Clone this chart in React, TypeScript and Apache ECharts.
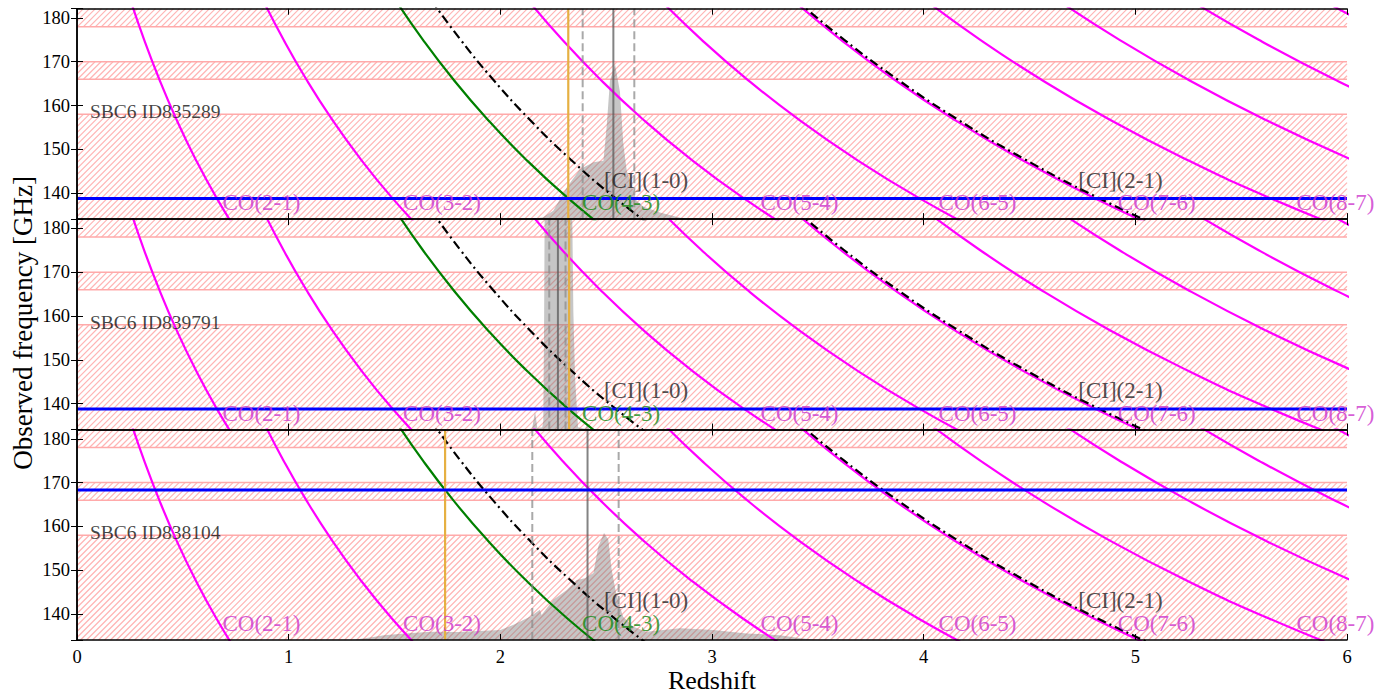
import React, { useEffect, useRef } from 'react';
import * as echarts from 'echarts';

const FONT = '"Liberation Serif", "Times New Roman", serif';

const zMin = 0;
const zMax = 6;
const fMin = 134.1;
const fMax = 182.1;

// Line tracks: [redshift, observed frequency GHz]
const co21 = [[0.2529, 184], [0.3174, 175], [0.3888, 166], [0.4684, 157], [0.5577, 148], [0.6586, 139], [0.7734, 130]];
const co32 = [[0.8793, 184], [0.976, 175], [1.0831, 166], [1.2025, 157], [1.3365, 148], [1.4877, 139], [1.66, 130]];
const co43 = [[1.5057, 184], [1.6345, 175], [1.7774, 166], [1.9366, 157], [2.1151, 148], [2.3168, 139], [2.5465, 130]];
const ci10 = [[1.6748, 184], [1.8123, 175], [1.9648, 166], [2.1348, 157], [2.3254, 148], [2.5407, 139], [2.7858, 130]];
const co54 = [[2.1319, 184], [2.293, 175], [2.4715, 166], [2.6705, 157], [2.8937, 148], [3.1458, 139], [3.4328, 130]];
const co65 = [[2.758, 184], [2.9513, 175], [3.1655, 166], [3.4043, 157], [3.6721, 148], [3.9746, 139], [4.319, 130]];
const co76 = [[3.384, 184], [3.6094, 175], [3.8593, 166], [4.1379, 157], [4.4504, 148], [4.8033, 139], [5.205, 130]];
const ci21 = [[3.3986, 184], [3.6248, 175], [3.8756, 166], [4.155, 157], [4.4685, 148], [4.8226, 139], [5.2257, 130]];
const co87 = [[4.0098, 184], [4.2674, 175], [4.553, 166], [4.8713, 157], [5.2284, 148], [5.6317, 139], [6.0908, 130]];
const co98 = [[4.6354, 184], [4.9252, 175], [5.2465, 166], [5.6045, 157], [6.0062, 148], [6.4598, 139]];
const co109 = [[5.2608, 184], [5.5828, 175], [5.9397, 166], [6.3375, 157], [6.7837, 148]];
const co1110 = [[5.886, 184], [6.2401, 175], [6.6326, 166]];

const pinkTracks = [co21, co32, co54, co65, co76, co87, co98, co109, co1110];
const greenTrack = co43;
const ciTracks = [ci10, ci21];

const coLabelNames = ['CO(2-1)', 'CO(3-2)', 'CO(4-3)', 'CO(5-4)', 'CO(6-5)', 'CO(7-6)', 'CO(8-7)'];
const coLabelZ = [0.685, 1.538, 2.384, 3.227, 4.068, 4.915, 5.759];
const coLabelFreq = 137.8;
const ciLabelNames = ['[CI](1-0)', '[CI](2-1)'];
const ciLabelZ = [2.487, 4.728];
const ciLabelFreq = 143.0;

const panelNames = ['SBC6 ID835289', 'SBC6 ID839791', 'SBC6 ID838104'];
const panelNameZ = 0.059;
const panelNameFreq = 158.6;

const blueFreq = [138.8, 138.8, 168.3];
const orangeZ = [2.321, 2.325, 1.739];
const peakZ = [2.534, 2.272, 2.412];
const lowZ = [2.389, 2.231, 2.151];
const highZ = [2.633, 2.308, 2.559];

const bandLow = [178, 166, 134.1];
const bandHigh = [182.1, 170, 158];

// Redshift probability distributions (scaled into frequency axis)
const spec1 = [[2.1, 134.1], [2.2, 134.5], [2.25, 136.0], [2.314, 141.3], [2.376, 145.5], [2.44, 147.1], [2.487, 147.4], [2.502, 155.0], [2.518, 165.7], [2.542, 169.4], [2.565, 163.2], [2.581, 151.3], [2.597, 145.2], [2.644, 138.3], [2.674, 137.0], [2.754, 135.6], [2.85, 134.4], [2.95, 134.1]];
const spec2 = [[2.1, 134.1], [2.15, 134.3], [2.164, 138.2], [2.175, 134.4], [2.198, 134.6], [2.203, 136.0], [2.207, 160.0], [2.211, 200.0], [2.337, 200.0], [2.34, 182.0], [2.345, 161.0], [2.353, 146.0], [2.367, 134.6], [2.4, 134.3], [2.411, 135.2], [2.42, 134.2], [2.5, 134.1]];
const spec3 = [[1.3, 134.1], [1.4, 134.8], [1.45, 135.2], [1.55, 135.6], [1.67, 136.0], [1.8, 135.9], [2.0, 136.4], [2.06, 137.5], [2.14, 139.4], [2.187, 141.0], [2.195, 139.8], [2.25, 143.3], [2.314, 145.5], [2.361, 147.8], [2.4, 148.2], [2.44, 149.4], [2.463, 155.4], [2.49, 158.5], [2.51, 157.0], [2.526, 150.1], [2.55, 144.0], [2.58, 139.4], [2.628, 137.1], [2.69, 136.0], [2.85, 136.8], [3.006, 136.4], [3.164, 135.6], [3.32, 135.2], [3.42, 134.5], [3.5, 134.1]];
const spectra = [spec1, spec2, spec3];

const HATCH_STEP = 6;
const HATCH_COLOR = '#ffb4b4';
const BAND_EDGE = '#ffaaaa';

export default function App() {
  const ref = useRef<HTMLDivElement>(null);
  useEffect(() => {
    if (!ref.current) return;
    const chart = echarts.init(ref.current, undefined, { renderer: 'svg' });

    const gridTop = 8.7;
    const gridH = 210.43;
    const grids: any[] = [];
    const xAxes: any[] = [];
    const yAxes: any[] = [];
    const series: any[] = [];
    const axisLine = { show: true, lineStyle: { color: '#000', width: 1.5 } };
    const tick = { show: true, inside: true, length: 6, lineStyle: { color: '#000', width: 1 } };

    const renderBand = (params: any, api: any) => {
      const low = api.value(1);
      const high = api.value(2);
      const tl = api.coord([zMin, high]);
      const br = api.coord([zMax, low]);
      const L = tl[0], T = tl[1], R = br[0], B = br[1];
      const H = B - T;
      const children: any[] = [];
      const start = Math.round(L - H) + 0.5;
      for (let x0 = start; x0 < R; x0 += HATCH_STEP) {
        const t0 = Math.max(0, L - x0);
        const t1 = Math.min(H, R - x0);
        if (t1 > t0) {
          children.push({
            type: 'line', silent: true,
            shape: { x1: x0 + t0, y1: B - t0, x2: x0 + t1, y2: B - t1 },
            style: { stroke: HATCH_COLOR, lineWidth: 1.2 },
          });
        }
      }
      if (low > fMin + 0.01) {
        children.push({ type: 'line', silent: true, shape: { x1: L, y1: B, x2: R, y2: B }, style: { stroke: BAND_EDGE, lineWidth: 1.5 } });
      }
      if (high < fMax - 0.01) {
        children.push({ type: 'line', silent: true, shape: { x1: L, y1: T, x2: R, y2: T }, style: { stroke: BAND_EDGE, lineWidth: 1.5 } });
      }
      return { type: 'group', children };
    };

    for (let i = 0; i < 3; i++) {
      grids.push({ left: 77, right: 47, top: gridTop + gridH * i, height: gridH });
      xAxes.push({
        type: 'value', gridIndex: i, position: 'bottom', min: zMin, max: zMax, interval: 1, z: 30,
        axisLine, axisTick: tick, splitLine: { show: false },
        axisLabel: { show: i === 2, color: '#000', fontFamily: FONT, fontSize: 18.5, margin: 8 },
        name: i === 2 ? 'Redshift' : '', nameLocation: 'middle', nameGap: 28,
        nameTextStyle: { color: '#000', fontFamily: FONT, fontSize: 26 },
      });
      xAxes.push({
        type: 'value', gridIndex: i, position: 'top', min: zMin, max: zMax, interval: 1, z: 30,
        axisLine, axisTick: tick, splitLine: { show: false }, axisLabel: { show: false },
      });
      yAxes.push({
        type: 'value', gridIndex: i, position: 'left', min: fMin, max: fMax, splitNumber: 5, z: 30,
        axisLine, axisTick: tick, splitLine: { show: false },
        axisLabel: {
          color: '#000', fontFamily: FONT, fontSize: 18.5, margin: 7,
          formatter: (v: number) => (Math.abs(v % 10) < 1e-6 ? String(v) : ''),
        },
      });
      yAxes.push({
        type: 'value', gridIndex: i, position: 'right', min: fMin, max: fMax, splitNumber: 5, z: 30,
        axisLine, axisTick: tick, splitLine: { show: false }, axisLabel: { show: false },
      });

      const ax = { xAxisIndex: 2 * i, yAxisIndex: 2 * i };
      // hatched frequency bands
      series.push({
        type: 'custom', ...ax, silent: true, z: 1,
        data: bandLow.map((b, k) => [zMin, b, bandHigh[k]]),
        encode: { x: 0, y: 1 },
        renderItem: renderBand,
      });
      // spectrum
      series.push({
        type: 'line', ...ax, data: spectra[i], symbol: 'none', silent: true, z: 2,
        lineStyle: { width: 0 }, areaStyle: { color: 'rgba(115,115,115,0.58)', origin: 'start' },
      });
      const track = (d: number[][], color: string, type: any, w: number, z: number) => ({
        type: 'line', ...ax, data: d, symbol: 'none', silent: true, smooth: 0.5, z,
        lineStyle: { color, width: w, type },
      });
      pinkTracks.forEach((t) => series.push(track(t, '#ff00ff', 'solid', 2.2, 4)));
      series.push(track(greenTrack, '#008000', 'solid', 2.2, 4));
      ciTracks.forEach((t) => series.push(track(t, '#000000', [9, 4, 2, 4], 2.2, 5)));

      const vline = (z: number, color: string, type: any, w: number, zz: number) => ({
        type: 'line', ...ax, data: [[z, fMin], [z, fMax]], symbol: 'none', silent: true, z: zz,
        lineStyle: { color, width: w, type },
      });
      series.push(vline(lowZ[i], 'rgba(140,140,140,0.75)', [8, 4], 2, 6));
      series.push(vline(highZ[i], 'rgba(140,140,140,0.75)', [8, 4], 2, 6));
      series.push(vline(peakZ[i], 'rgba(90,90,90,0.75)', 'solid', 2, 6));
      series.push(vline(orangeZ[i], '#e6b042', 'solid', 2.2, 6));
      series.push({
        type: 'line', ...ax, data: [[zMin, blueFreq[i]], [zMax, blueFreq[i]]], symbol: 'none', silent: true, z: 7,
        lineStyle: { color: '#0000ff', width: 3 },
      });

      const textData: any[] = [];
      coLabelNames.forEach((n, k) => textData.push({
        value: [coLabelZ[k], coLabelFreq], name: n,
        label: { color: n === 'CO(4-3)' ? '#138a13' : '#cc33cc', fontSize: 23, lineHeight: 17 },
      }));
      ciLabelNames.forEach((n, k) => textData.push({
        value: [ciLabelZ[k], ciLabelFreq], name: n, label: { color: '#222', fontSize: 23, lineHeight: 17 },
      }));
      textData.push({
        value: [panelNameZ, panelNameFreq], name: panelNames[i],
        label: { color: '#111', fontSize: 19.5, lineHeight: 16 },
      });
      series.push({
        type: 'scatter', ...ax, data: textData, symbolSize: 1, silent: true, z: 10,
        itemStyle: { color: 'rgba(0,0,0,0)' },
        labelLayout: { hideOverlap: false, moveOverlap: false },
        label: { show: true, position: 'right', distance: 0, formatter: '{b}', fontFamily: FONT },
      });
    }

    chart.setOption({
      animation: false,
      backgroundColor: '#fff',
      grid: grids,
      xAxis: xAxes,
      yAxis: yAxes,
      graphic: [{
        type: 'text', left: 9, top: 176, rotation: Math.PI / 2, silent: true,
        style: { text: 'Observed frequency [GHz]', fill: '#000', font: '27px ' + FONT },
      }],
      series,
    });
    return () => chart.dispose();
  }, []);
  return (
    <div
      ref={ref}
      style={{ position: 'fixed', left: 0, top: 0, width: 1394, height: 700, background: '#fff' }}
    />
  );
}
